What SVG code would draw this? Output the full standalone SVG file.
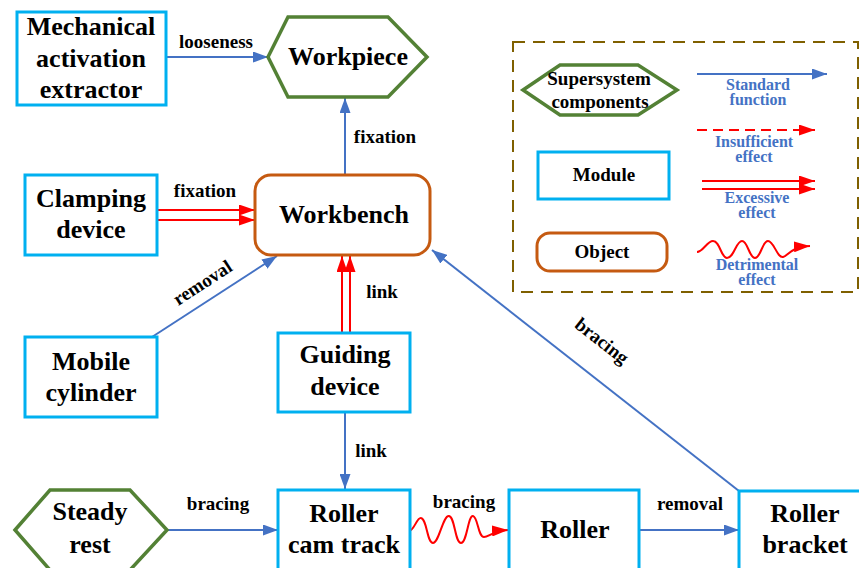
<svg xmlns="http://www.w3.org/2000/svg" width="859" height="568" viewBox="0 0 859 568">
<style>
.mod{fill:#fff;stroke:#00B0F0;stroke-width:3}
.sup{fill:#fff;stroke:#538135;stroke-width:3.5;stroke-linejoin:miter}
.obj{fill:#fff;stroke:#C55A11;stroke-width:3}
svg text{font-family:'Liberation Serif','Times New Roman',serif;font-weight:700}
.nt{font-size:26px;fill:#000;text-anchor:middle}
.el{font-size:19px;fill:#000;text-anchor:middle}
.lt{font-size:19px;fill:#000;text-anchor:middle}
.lb{font-size:16px;fill:#4472C4;text-anchor:middle}
.bl{fill:none;stroke:#4472C4;stroke-width:2;marker-end:url(#ab)}
.rd{fill:none;stroke:#FF0000;stroke-width:2;marker-end:url(#ar)}
</style>
<defs>
<marker id="ab" markerUnits="userSpaceOnUse" markerWidth="15" markerHeight="11" refX="15" refY="5.5" orient="auto"><path d="M0,0 L15,5.5 L0,11 z" fill="#4472C4"/></marker>
<marker id="ar" markerUnits="userSpaceOnUse" markerWidth="16" markerHeight="11" refX="16" refY="5.5" orient="auto"><path d="M0,0 L16,5.5 L0,11 z" fill="#FF0000"/></marker>
</defs>

<g id="connectors">
<line class="bl" x1="166" y1="57" x2="268" y2="57"/>
<text class="el" x="216" y="48">looseness</text>
<line class="bl" x1="345" y1="175" x2="345" y2="98"/>
<text class="el" x="385" y="143">fixation</text>
<line class="rd" x1="157" y1="210" x2="255" y2="210"/>
<line class="rd" x1="157" y1="220" x2="255" y2="220"/>
<text class="el" x="205" y="197">fixation</text>
<line class="bl" x1="152" y1="337" x2="277" y2="256"/>
<text class="el" x="206" y="288" transform="rotate(-33 206 288)">removal</text>
<line class="rd" x1="342" y1="333" x2="342" y2="256"/>
<line class="rd" x1="350" y1="333" x2="350" y2="256"/>
<text class="el" x="382" y="298">link</text>
<line class="bl" x1="345" y1="412" x2="345" y2="489"/>
<text class="el" x="371" y="457">link</text>
<line class="bl" x1="739" y1="491" x2="432" y2="250"/>
<text class="el" x="598" y="346" transform="rotate(38 598 346)">bracing</text>
<line class="bl" x1="167" y1="530" x2="278" y2="530"/>
<text class="el" x="218" y="510">bracing</text>
<path class="rd" d="M409,531 C414,531 417,517 421,518 C427,519 427,543 433,543 C439,543 443,515 449,516 C455,517 455,543 461,543 C467,543 468,515 473,516 C478,517 478,537 484,537 C489,537 492,531 508,530"/>
<text class="el" x="464" y="508">bracing</text>
<line class="bl" x1="639" y1="530" x2="739" y2="530"/>
<text class="el" x="690" y="510">removal</text>
</g>

<g id="n-extractor">
<rect class="mod" x="17" y="12" width="149" height="93"/>
<text class="nt" x="91" y="35">Mechanical</text>
<text class="nt" x="91" y="67">activation</text>
<text class="nt" x="91" y="98">extractor</text>
</g>
<g id="n-workpiece">
<polygon class="sup" points="268,57 288,17 388,17 427,57 388,97 288,97"/>
<text class="nt" x="348" y="65">Workpiece</text>
</g>
<g id="n-workbench">
<rect class="obj" x="255" y="175" width="175" height="80" rx="16"/>
<text class="nt" x="344" y="223">Workbench</text>
</g>
<g id="n-clamping">
<rect class="mod" x="25" y="175" width="132" height="80"/>
<text class="nt" x="91" y="207">Clamping</text>
<text class="nt" x="91" y="238">device</text>
</g>
<g id="n-mobile">
<rect class="mod" x="25" y="337" width="132" height="80"/>
<text class="nt" x="91" y="370">Mobile</text>
<text class="nt" x="91" y="401">cylinder</text>
</g>
<g id="n-guiding">
<rect class="mod" x="278" y="333" width="132" height="79"/>
<text class="nt" x="345" y="363">Guiding</text>
<text class="nt" x="345" y="395">device</text>
</g>
<g id="n-steady">
<polygon class="sup" points="15,530 50,490 130,490 167,530 130,570 50,570"/>
<text class="nt" x="90" y="520">Steady</text>
<text class="nt" x="90" y="553">rest</text>
</g>
<g id="n-camtrack">
<rect class="mod" x="278" y="490" width="132" height="82"/>
<text class="nt" x="344" y="522">Roller</text>
<text class="nt" x="344" y="553">cam track</text>
</g>
<g id="n-roller">
<rect class="mod" x="509" y="490" width="130" height="82"/>
<text class="nt" x="575" y="538">Roller</text>
</g>
<g id="n-bracket">
<rect class="mod" x="739" y="491" width="132" height="82"/>
<text class="nt" x="805" y="522">Roller</text>
<text class="nt" x="805" y="553">bracket</text>
</g>

<g id="legend">
<rect x="513" y="42" width="345" height="250" fill="none" stroke="#7F6000" stroke-width="2" stroke-dasharray="12,8"/>
<polygon class="sup" points="523,90 560,65 638,65 677,90 638,115 560,115"/>
<text class="lt" x="599" y="85">Supersystem</text>
<text class="lt" x="600" y="108">components</text>
<rect class="mod" x="538" y="152" width="131" height="47"/>
<text class="lt" x="604" y="181">Module</text>
<rect class="obj" x="537" y="233" width="130" height="38" rx="13"/>
<text class="lt" x="602" y="258">Object</text>
<line class="bl" x1="697" y1="74" x2="827" y2="74"/>
<text class="lb" x="758" y="90">Standard</text>
<text class="lb" x="758" y="105">function</text>
<line class="rd" x1="697" y1="130" x2="815" y2="130" stroke-dasharray="10,6"/>
<text class="lb" x="754" y="147">Insufficient</text>
<text class="lb" x="754" y="162">effect</text>
<line class="rd" x1="702" y1="181" x2="815" y2="181"/>
<line class="rd" x1="702" y1="189" x2="815" y2="189"/>
<text class="lb" x="757" y="203">Excessive</text>
<text class="lb" x="757" y="218">effect</text>
<path class="rd" d="M697,252 C703,252 707,241 713,241 C720,241 721,258 727,258 C734,258 736,241 742,241 C748,241 749,258 755,258 C761,258 762,241 768,241 C774,241 777,258 783,257 C788,256 790,247 810,246"/>
<text class="lb" x="757" y="270">Detrimental</text>
<text class="lb" x="757" y="285">effect</text>
</g>
</svg>
